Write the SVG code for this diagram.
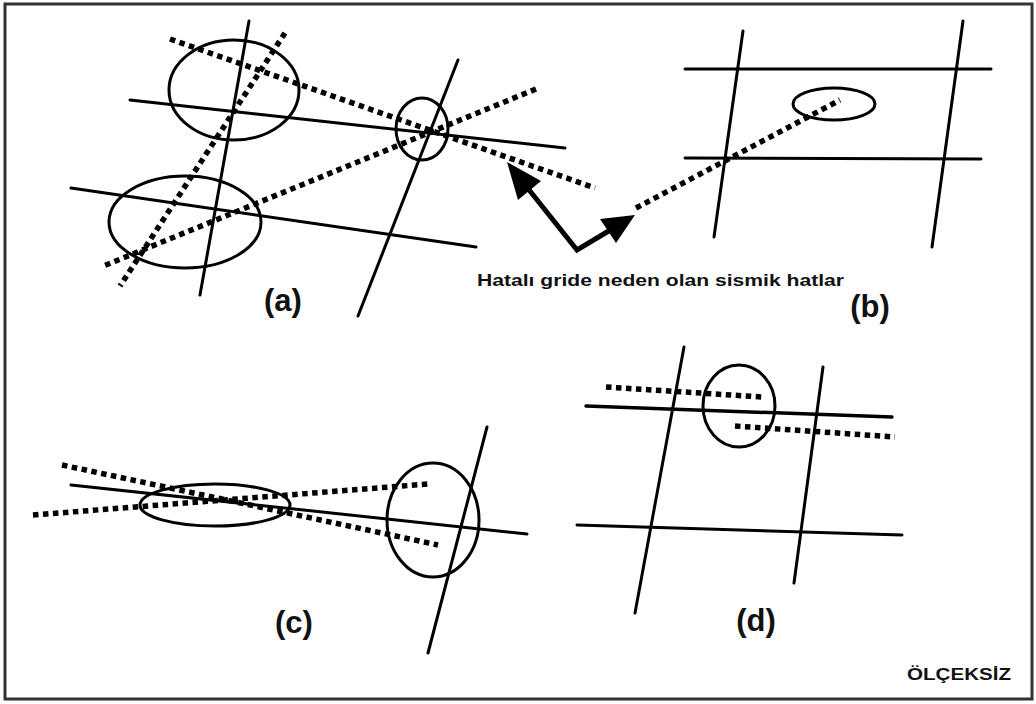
<svg xmlns="http://www.w3.org/2000/svg" width="1036" height="704" viewBox="0 0 1036 704">
<defs>
<style>
.s{stroke:#000;stroke-width:3;fill:none;stroke-linecap:round}
.d{stroke:#000;stroke-width:5.5;fill:none;stroke-dasharray:5.5 4.5}
.e{stroke:#000;stroke-width:3;fill:none}
.lbl{font-family:"Liberation Sans",Arial,sans-serif;font-weight:bold;font-size:31px;fill:#111;text-anchor:middle}
.t{font-family:"Liberation Sans",Arial,sans-serif;font-weight:bold;fill:#111}
</style>
</defs>
<rect x="0" y="0" width="1036" height="704" fill="#fff"/>
<rect x="5" y="4" width="1027" height="695" fill="none" stroke="#333" stroke-width="3"/>

<g id="panel-a">
<line class="s" x1="249" y1="21" x2="200" y2="295"/>
<line class="s" x1="458" y1="60" x2="358" y2="316"/>
<line class="s" x1="130" y1="100" x2="565" y2="148"/>
<line class="s" x1="71" y1="188" x2="476" y2="247"/>
<line class="d" x1="170" y1="39" x2="595" y2="188"/>
<line class="d" x1="285" y1="33" x2="120" y2="286"/>
<line class="d" x1="536" y1="89" x2="101" y2="267"/>
<ellipse class="e" cx="234" cy="90" rx="65" ry="50"/>
<ellipse class="e" cx="185" cy="222" rx="76" ry="46"/>
<ellipse class="e" cx="422" cy="129" rx="26" ry="31"/>
<text class="lbl" x="283" y="311">(a)</text>
</g>

<g id="panel-b">
<line class="s" x1="743" y1="31" x2="714" y2="237"/>
<line class="s" x1="963" y1="21" x2="932" y2="247"/>
<line class="s" x1="685" y1="69" x2="991" y2="69"/>
<line class="s" x1="685" y1="158" x2="981" y2="159"/>
<line class="d" x1="636" y1="208" x2="840" y2="100"/>
<ellipse class="e" cx="834" cy="104" rx="41" ry="16"/>
<text class="lbl" x="870" y="317">(b)</text>
</g>

<g id="panel-c">
<line class="s" x1="71" y1="485" x2="527" y2="534"/>
<line class="s" x1="487" y1="427" x2="428" y2="653"/>
<line class="d" x1="62" y1="465" x2="438" y2="545"/>
<line class="d" x1="33" y1="515" x2="428" y2="484"/>
<ellipse class="e" cx="215" cy="505" rx="75" ry="21"/>
<ellipse class="e" cx="433" cy="520" rx="46" ry="57"/>
<text class="lbl" x="294" y="633">(c)</text>
</g>

<g id="panel-d">
<line class="s" x1="684" y1="347" x2="635" y2="613"/>
<line class="s" x1="823" y1="367" x2="794" y2="583"/>
<line class="s" x1="586" y1="406" x2="892" y2="417" style="stroke-width:3.5"/>
<line class="s" x1="577" y1="525" x2="902" y2="535"/>
<line class="d" x1="606" y1="387" x2="762" y2="397"/>
<line class="d" x1="735" y1="426" x2="895" y2="437"/>
<ellipse class="e" cx="739" cy="406" rx="36" ry="41"/>
<text class="lbl" x="756" y="631">(d)</text>
</g>

<g id="connectors">
<polyline points="522,181 577,250 612,229" fill="none" stroke="#000" stroke-width="5" stroke-linejoin="miter"/>
<polygon points="507,162 541,181 518,200" fill="#000"/>
<polygon points="635,215 616,243 600,219" fill="#000"/>
</g>

<g id="caption">
<text class="t" x="477" y="286" font-size="16" textLength="367" lengthAdjust="spacingAndGlyphs">Hatalı gride neden olan sismik hatlar</text>
</g>
<g id="scale-note">
<text class="t" x="907" y="680" font-size="16" textLength="104" lengthAdjust="spacingAndGlyphs">ÖLÇEKSİZ</text>
</g>
</svg>
